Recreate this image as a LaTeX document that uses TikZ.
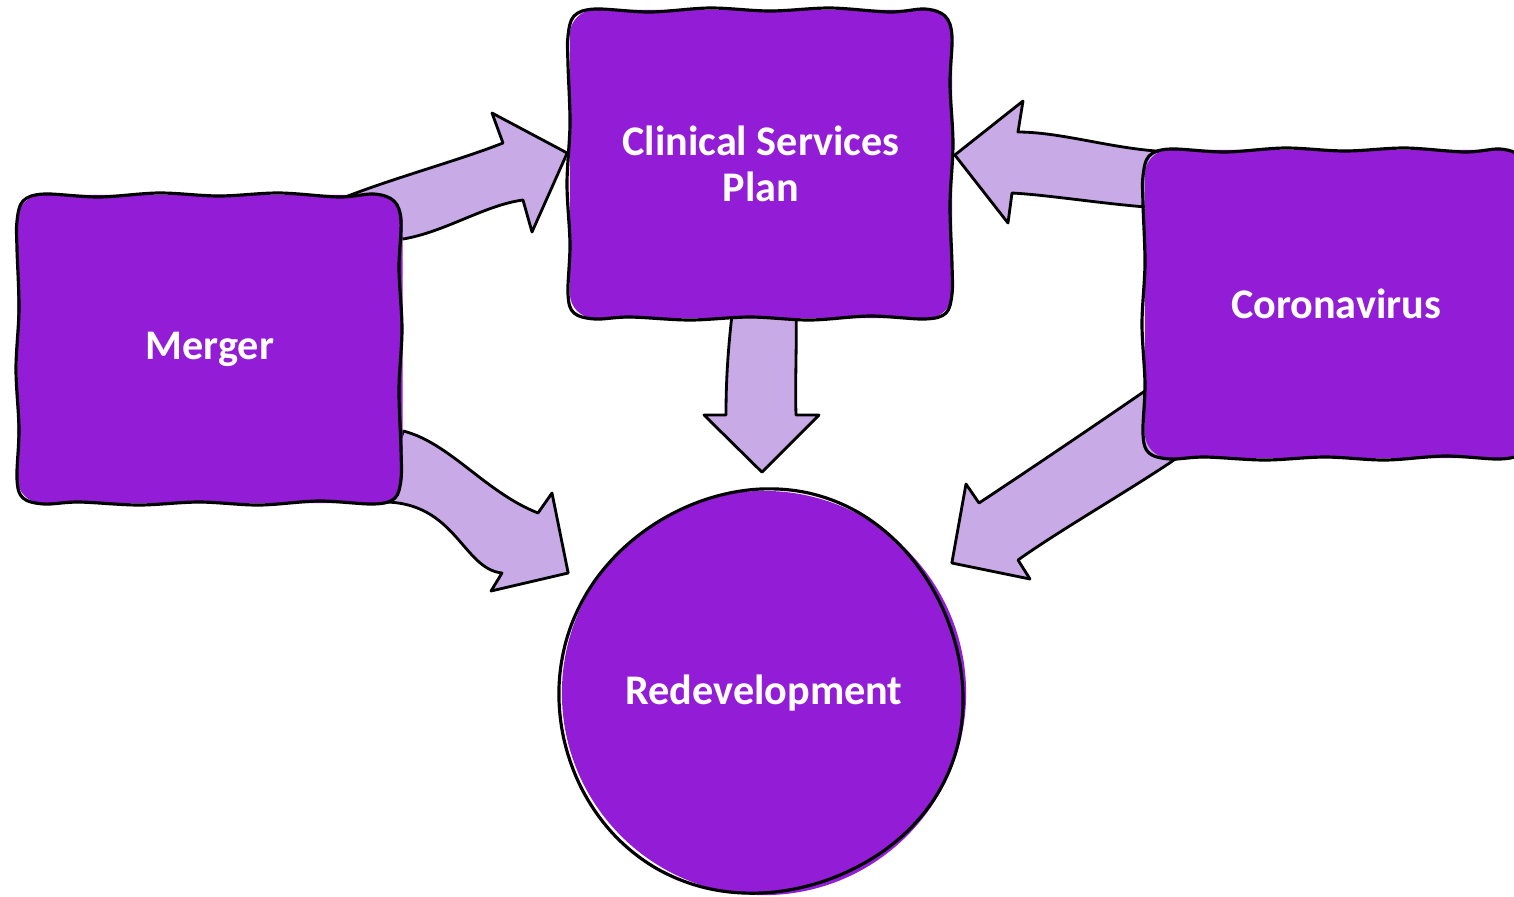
\documentclass[tikz,border=0pt]{standalone}
\usepackage{fontspec}
\setmainfont{Carlito}
\usepackage{tikz}
\usetikzlibrary{calc,backgrounds}
\definecolor{boxpurple}{RGB}{147,29,214}
\definecolor{arrowlilac}{RGB}{200,170,230}
\newcommand{\bw}{3.82cm}
\newcommand{\bh}{3.08cm}
\tikzset{
  box/.style={rectangle,rounded corners=7pt,fill=boxpurple,minimum width=\bw,minimum height=\bh,
    inner sep=0pt,text=white,align=center,font=\bfseries\fontsize{12}{13.2}\selectfont},
  sketch/.style={draw=black,line width=0.9pt,line join=round},
  blockarrow/.style={fill=arrowlilac,draw=black,line width=0.8pt,line join=round}
}

\begin{document}
\begin{tikzpicture}[x=0.01cm,y=-0.01cm]
\useasboundingbox (0,0) rectangle (1514,896);

\node[box] (csp) at (761,164) {Clinical Services\\Plan};
\node[box,minimum width=3.85cm] (merger) at (210,349) {Merger};
\node[box] (corona) at (1336,304) {Coronavirus};
\node[box,circle,minimum size=4.04cm] (redev) at (764,693) {Redevelopment};

\foreach \h in {merger,csp,corona}{
\draw[sketch,shift={($(\h.center)+(-1,0)$)}] plot[smooth cycle,tension=0.55] coordinates {
  (-165,-155) (-110,-152) (-50,-156) (10,-153) (70,-156) (130,-152) (165,-155)
  (185,-148) (192,-128) (190,-80) (193,-20) (190,40) (192,100)
  (192,130) (186,149) (165,155) (110,152) (50,156) (-10,153) (-70,156) (-130,153) (-165,155)
  (-186,149) (-192,130) (-190,80) (-193,20) (-190,-40) (-192,-100) (-192,-128) (-186,-148)};
}
\draw[sketch,shift={($(redev.center)+(-3,-2)$)}] plot[smooth cycle,tension=0.6,samples=24,domain=0:345,variable=\a]
  ({202*cos(\a)+3*sin(2*\a)},{202*sin(\a)+3*cos(3*\a)});

\begin{scope}[on background layer]
\coordinate (m1) at ($(merger.north east)+(-56,2)$);
\coordinate (c1) at ($(csp.west)+(-2,-11)$);
\coordinate (m2) at ($(merger.east)+(0,82)$);
\coordinate (r2) at ($(redev.west)+(7,-120)$);
\coordinate (c3) at ($(csp.south)+(-29,-4)$);
\coordinate (r3) at ($(redev.north)+(-2,-18)$);
\coordinate (k4) at ($(corona.north west)+(15,2)$);
\coordinate (c4) at ($(csp.east)+(2,-9)$);
\coordinate (k5) at ($(corona.west)+(5,84)$);
\coordinate (r5) at ($(redev.east)+(-15,-130)$);

\filldraw[blockarrow] (m1) .. controls (400,176) and (460,160) .. (503,143) -- (492,113) -- (c1)
  -- (532,232) -- (523,200) .. controls (485,205) and (445,232) .. (403,239) -- (380,225) -- cycle;
\filldraw[blockarrow] (m2) .. controls (450,443) and (485,492) .. (538,513) -- (552,493) -- (r2)
  -- (491,591) -- (502,573) .. controls (463,569) and (456,503) .. (385,502) -- (390,470) -- cycle;
\filldraw[blockarrow] (c3) .. controls (728,350) and (726,380) .. (726,415) -- (704,415) -- (r3)
  -- (819,415) -- (796,415) .. controls (795,380) and (797,340) .. (796,310) -- cycle;
\filldraw[blockarrow] (k4) .. controls (1110,148) and (1060,132) .. (1018,132) -- (1023,101) -- (c4)
  -- (1008,223) -- (1012,193) .. controls (1050,195) and (1110,205) .. (1160,208) -- cycle;
\filldraw[blockarrow] (k5) .. controls (1100,422) and (1020,476) .. (979,503) -- (966,484) -- (r5)
  -- (1030,579) -- (1018,560) .. controls (1060,530) and (1130,490) .. (1177,458) -- (1170,420) -- cycle;
\end{scope}
\end{tikzpicture}
\end{document}
